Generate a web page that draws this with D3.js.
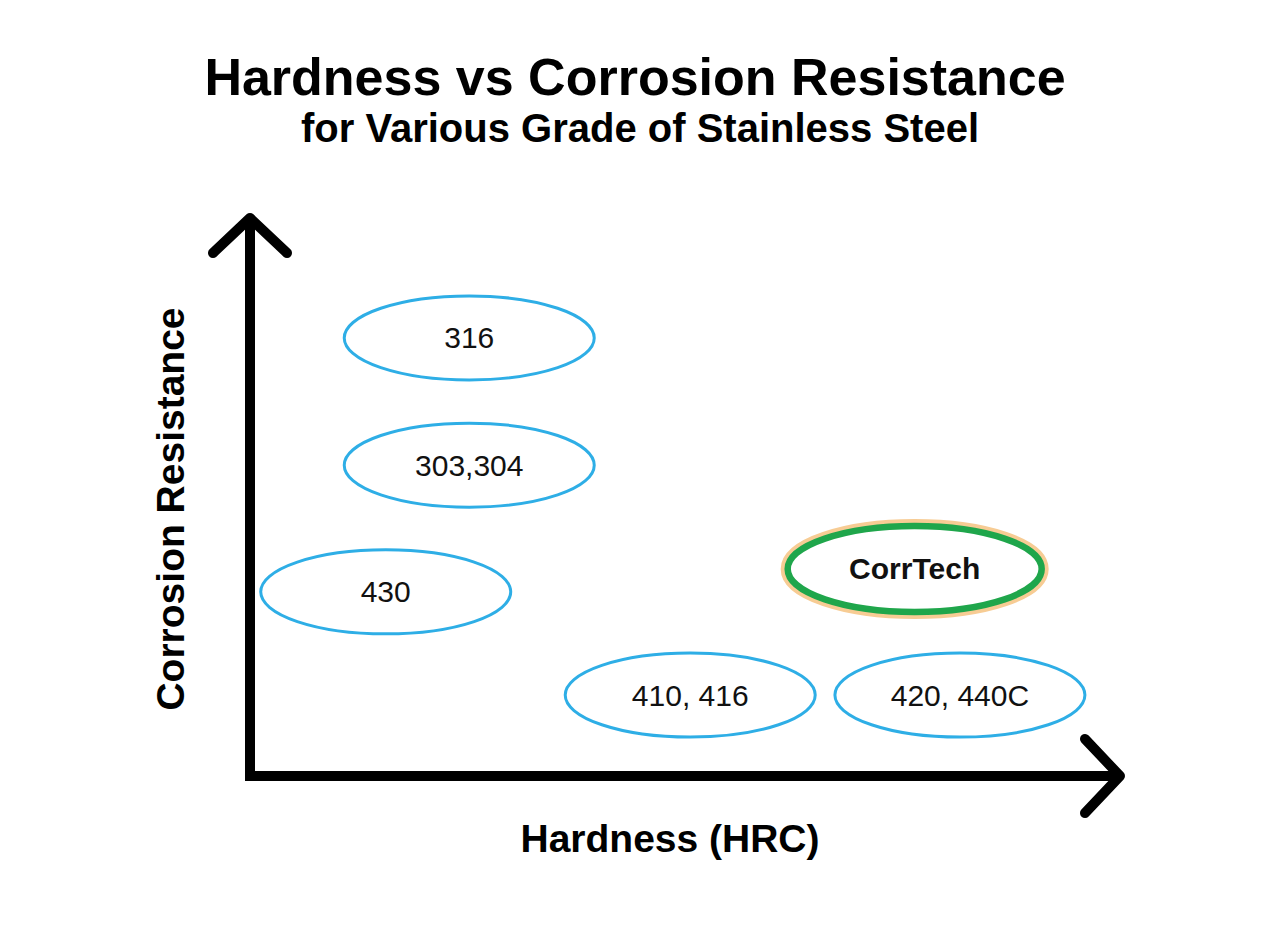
<!DOCTYPE html>
<html>
<head>
<meta charset="utf-8">
<script src="https://cdn.jsdelivr.net/npm/d3@7"></script>
<style>
    body { margin: 0; background: #fff; }
    svg { display: block; font-family: "Liberation Sans", Arial, Helvetica, sans-serif; }
    .grade { fill: #fff; stroke: #2eaee6; stroke-width: 3; }
    .grade-label { font-size: 30px; fill: #111; text-anchor: middle; }
</style>
</head>
<body>
<div id="chart"></div>
<script>

// Grades of stainless steel and where they sit (arbitrary units, 0-10)
let grades = ["316", "303,304", "430", "410, 416", "420, 440C", "CorrTech"];
let hardness = [2.52, 2.52, 1.56, 5.06, 8.16, 7.64];
let corrosion = [7.85, 5.57, 3.30, 1.45, 1.45, 3.71];
let highlighted = ["CorrTech"];

let chart = {
    width: 1280,
    height: 931,
    origin: { x: 250, y: 776 },
    end: { x: 1120, y: 218 },
    rx: 125,
    ry: 42
};

let svg = d3.select("#chart")
    .append("svg")
    .attr("width", chart.width)
    .attr("height", chart.height);

let x = d3.scaleLinear()
    .domain([0, 10])
    .range([chart.origin.x, chart.end.x]);

let y = d3.scaleLinear()
    .domain([0, 10])
    .range([chart.origin.y, chart.end.y]);

// Titles
svg.append("text")
    .attr("x", 635)
    .attr("y", 95)
    .attr("text-anchor", "middle")
    .style("font-size", "52px")
    .style("font-weight", "bold")
    .text("Hardness vs Corrosion Resistance");

svg.append("text")
    .attr("x", 640)
    .attr("y", 142)
    .attr("text-anchor", "middle")
    .style("font-size", "40px")
    .style("font-weight", "bold")
    .text("for Various Grade of Stainless Steel");

// Axes drawn as one L shaped path, plus arrow heads
let axes = svg.append("g")
    .attr("fill", "none")
    .attr("stroke", "#000")
    .attr("stroke-width", 10);

axes.append("path")
    .attr("stroke-linejoin", "miter")
    .attr("d", d3.line()([
        [x(0), y(10)],
        [x(0), y(0)],
        [x(10), y(0)]
    ]));

axes.append("path")
    .attr("stroke-linecap", "round")
    .attr("stroke-linejoin", "round")
    .attr("d", d3.line()([
        [x(0) - 37, y(10) + 35],
        [x(0), y(10)],
        [x(0) + 37, y(10) + 35]
    ]));

axes.append("path")
    .attr("stroke-linecap", "round")
    .attr("stroke-linejoin", "round")
    .attr("d", d3.line()([
        [x(10) - 35, y(0) - 37],
        [x(10), y(0)],
        [x(10) - 35, y(0) + 37]
    ]));

// Axis titles
svg.append("text")
    .attr("x", 670)
    .attr("y", 852)
    .attr("text-anchor", "middle")
    .style("font-size", "39px")
    .style("font-weight", "bold")
    .text("Hardness (HRC)");

svg.append("text")
    .attr("transform", "translate(184,509) rotate(-90)")
    .attr("text-anchor", "middle")
    .style("font-size", "39px")
    .style("font-weight", "bold")
    .text("Corrosion Resistance");

// One ellipse per grade
let data = grades.map(function (g, i) {
    return { grade: g, hardness: hardness[i], corrosion: corrosion[i], hl: highlighted.includes(g) };
});

let items = svg.append("g")
    .selectAll("g")
    .data(data)
    .enter()
    .append("g")
    .attr("transform", function (d) { return "translate(" + x(d.hardness) + "," + y(d.corrosion) + ")"; });

// halo under the highlighted grade
items.filter(function (d) { return d.hl; })
    .append("ellipse")
    .attr("rx", chart.rx + 2)
    .attr("ry", chart.ry + 1)
    .attr("fill", "#fff")
    .attr("stroke", "#f7cc94")
    .attr("stroke-width", 14);

items.append("ellipse")
    .attr("class", "grade")
    .attr("rx", function (d) { return d.hl ? chart.rx + 2 : chart.rx; })
    .attr("ry", function (d) { return d.hl ? chart.ry + 1 : chart.ry; })
    .style("stroke", function (d) { return d.hl ? "#1fa64b" : null; })
    .style("stroke-width", function (d) { return d.hl ? 6.5 : null; });

items.append("text")
    .attr("class", "grade-label")
    .attr("y", 10.5)
    .style("font-weight", function (d) { return d.hl ? "bold" : "normal"; })
    .text(function (d) { return d.grade; });

</script>
</body>
</html>
